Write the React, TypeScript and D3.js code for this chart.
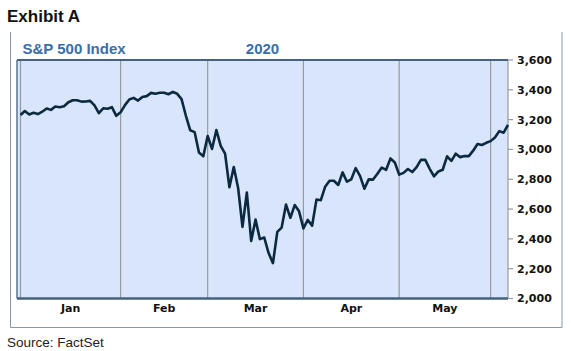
import * as d3 from "d3";

// S&P 500 daily closes on weekdays (holidays carry the previous close)
const jan = [3230.78, 3257.85, 3234.85, 3246.28, 3237.18, 3253.05, 3274.7, 3265.35, 3288.13, 3283.15, 3289.29, 3316.81, 3329.62, 3329.62, 3320.79, 3321.75, 3325.54, 3295.47, 3243.63, 3276.24, 3273.4, 3283.66, 3225.52];
const feb = [3248.92, 3297.59, 3334.69, 3345.78, 3327.71, 3352.09, 3357.75, 3379.45, 3373.94, 3380.16, 3380.16, 3370.29, 3386.15, 3373.23, 3337.75, 3225.89, 3128.21, 3116.39, 2978.76, 2954.22];
const mar = [3090.23, 3003.37, 3130.12, 3023.94, 2972.37, 2746.56, 2882.23, 2741.38, 2480.64, 2711.02, 2386.13, 2529.19, 2398.1, 2409.39, 2304.92, 2237.4, 2447.33, 2475.56, 2630.07, 2541.47, 2626.65, 2584.59];
const apr = [2470.5, 2526.9, 2488.65, 2663.68, 2659.41, 2749.98, 2789.82, 2789.82, 2761.63, 2846.06, 2783.36, 2799.55, 2874.56, 2823.16, 2736.56, 2799.31, 2797.8, 2836.74, 2878.48, 2863.39, 2939.51, 2912.43];
const may = [2830.71, 2842.74, 2868.44, 2848.42, 2881.19, 2929.8, 2930.32, 2870.12, 2820.0, 2852.5, 2863.7, 2953.91, 2922.94, 2971.61, 2948.51, 2955.45, 2955.45, 2991.77, 3036.13, 3029.73, 3044.31];
const jun = [3055.73, 3080.82, 3122.87, 3112.35, 3165];

const months = ["Jan", "Feb", "Mar", "Apr", "May"];
const yTicks = [2000, 2200, 2400, 2600, 2800, 3000, 3200, 3400, 3600];

const monthSeries = [jan, feb, mar, apr, may, jun];
const values = monthSeries.flat();
// index of first weekday of each month
const monthStarts: number[] = [];
monthSeries.reduce((acc, m) => { monthStarts.push(acc); return acc + m.length; }, 0);

const W = 571, H = 351;
const plot = { left: 17, right: 508, top: 60, bottom: 298.5 };

export default function App() {
  const x = d3.scaleLinear().domain([0, values.length - 1]).range([20.5, plot.right]);
  const y = d3.scaleLinear().domain([2000, 3600]).range([plot.bottom, plot.top]);

  const line = d3.line<number>().x((_, i) => x(i)).y(d => y(d));

  return (
    <svg width={W} height={H} style={{ position: "absolute", left: 0, top: 0, background: "#fff" }}>
      <text x={7} y={22} fontFamily="Liberation Sans, Arial, sans-serif" fontWeight="bold" fontSize={17} fill="#111">Exhibit A</text>

      {/* frame, open at the top */}
      <path d={`M10.5,32V327.5H562V32`} fill="none" stroke="#8796ad" strokeWidth={1} />

      <text x={22.5} y={53.5} fontFamily="Liberation Sans, Arial, sans-serif" fontWeight="bold" fontSize={15} fill="#3b6ea7">S&amp;P 500 Index</text>
      <text x={262.5} y={53.5} textAnchor="middle" fontFamily="Liberation Sans, Arial, sans-serif" fontWeight="bold" fontSize={15} fill="#3b6ea7">2020</text>

      <rect x={plot.left} y={plot.top} width={plot.right - plot.left} height={plot.bottom - plot.top} fill="#d8e5fb" />

      {monthStarts.map((s, i) => (
        <line key={i} x1={x(s)} x2={x(s)} y1={plot.top} y2={plot.bottom} stroke="#979b9e" strokeWidth={1.2} />
      ))}

      <line x1={plot.left} x2={plot.left} y1={plot.top} y2={plot.bottom} stroke="#5a7490" strokeWidth={1.5} />
      <line x1={plot.right} x2={plot.right} y1={plot.top} y2={plot.bottom} stroke="#979b9e" strokeWidth={1.2} />
      <line x1={plot.left} x2={plot.right} y1={plot.top} y2={plot.top} stroke="#46627f" strokeWidth={2} />
      <line x1={plot.left} x2={plot.right} y1={plot.bottom} y2={plot.bottom} stroke="#46627f" strokeWidth={2.5} />

      <path d={line(values) ?? ""} fill="none" stroke="#0c2a3f" strokeWidth={2.6} strokeLinejoin="round" />

      {yTicks.map(t => (
        <g key={t} transform={`translate(${plot.right},${y(t)})`}>
          <line x1={0} x2={5} stroke="#979b9e" strokeWidth={1.2} />
          <text x={9} dy="0.36em" fontFamily="DejaVu Sans, Verdana, sans-serif" fontWeight="bold" fontSize={11} fill="#111">{d3.format(",")(t)}</text>
        </g>
      ))}

      {months.map((m, i) => (
        <text key={m} x={(x(monthStarts[i]) + x(monthStarts[i + 1])) / 2} y={311.5} textAnchor="middle"
          fontFamily="DejaVu Sans, Verdana, sans-serif" fontWeight="bold" fontSize={11} fill="#111">{m}</text>
      ))}

      <text x={7} y={346.5} fontFamily="Liberation Sans, Arial, sans-serif" fontSize={13.5} fill="#222">Source: FactSet</text>
    </svg>
  );
}
